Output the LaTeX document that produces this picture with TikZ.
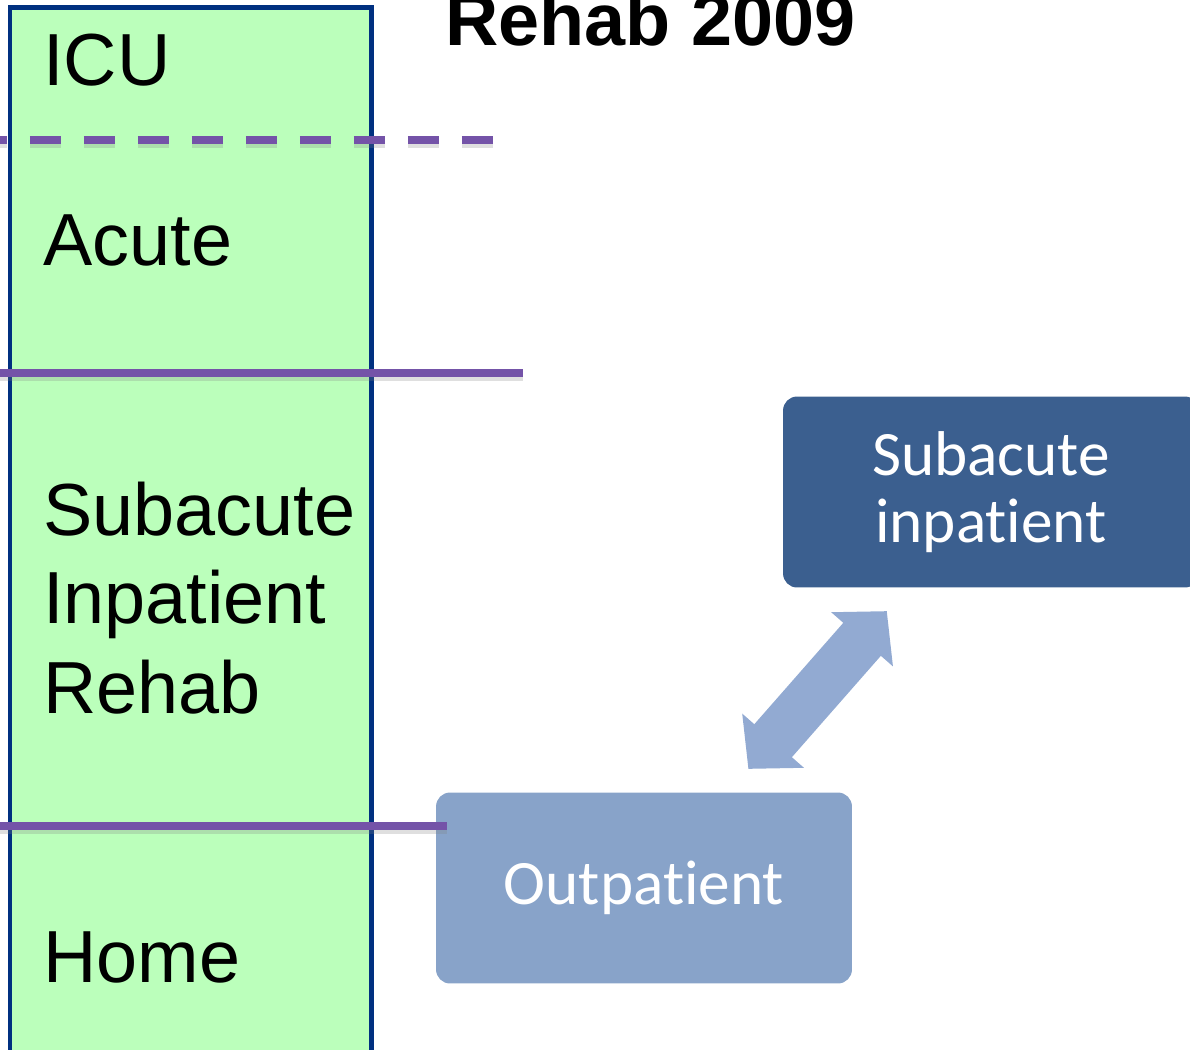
\documentclass[tikz,border=0pt]{standalone}
\usepackage{fontspec}
\setmainfont{Liberation Sans}
\newfontfamily\boxfont{Carlito}[Ligatures={NoCommon,NoContextual}]
\usetikzlibrary{
    arrows.meta,
    positioning
}
\definecolor{stagegreen}{RGB}{187,255,187}
\definecolor{stageblue}{RGB}{0,48,128}
\definecolor{divider}{RGB}{116,83,168}
\definecolor{darkbox}{RGB}{59,95,143}
\definecolor{lightbox}{RGB}{136,163,201}
\definecolor{arrowblue}{RGB}{146,170,210}
\tikzset{
  stage/.style={
    anchor=base west,
    inner sep=0pt,
    font=\fontsize{42}{51}\selectfont
  },
  divline/.style={
    divider,
    line width=0.16cm
  },
  divshadow/.style={
    gray,
    opacity=0.25,
    line width=0.16cm
  },
  setting/.style={
    rectangle,
    rounded corners=0.28cm,
    minimum width=8.32cm,
    minimum height=3.82cm,
    align=center,
    text=white,
    font=\boxfont\fontsize{36}{38}\selectfont
  },
  twoway/.style={
    arrowblue,
    line width=1cm,
    shorten <=0.62cm,
    shorten >=0.62cm,
    {Triangle[width=1.6cm,length=0.75cm]}-{Triangle[width=1.6cm,length=0.75cm]}
  }
}

\begin{document}
\begin{tikzpicture}[x=0.02cm, y=-0.02cm]
    \useasboundingbox (0,0) rectangle (1190,1049);
    \clip (0,0) rectangle (1190,1049);

    % stages column
    \draw[stageblue, fill=stagegreen, line width=0.1cm] (10,7) rectangle (371,1080);

    % title
    \node[stage, font=\fontsize{42}{51}\selectfont\bfseries] (title) at (445,45) {Rehab 2009};

    % stage names
    \node[stage] (icu) at (43,85) {ICU};
    \node[stage] (acute) at (43,265) {Acute};
    \node[stage] (sub) at (43,535) {Subacute};
    \node[stage] (inp) at (43,623) {Inpatient};
    \node[stage] (rehab) at (43,713) {Rehab};
    \node[stage] (home) at (43,982) {Home};

    % settings
    \node[setting, fill=darkbox] (subin) at (991,492) {Subacute\\inpatient};
    \node[setting, fill=lightbox] (outp) at (644,888) {Outpatient};

    % flow
    \draw[twoway] (outp) -- (subin);

    % dividers
    \draw[divshadow, dash pattern=on 0.62cm off 0.46cm, dash phase=0.48cm] (0,144) -- (512,144);
    \draw[divline, dash pattern=on 0.62cm off 0.46cm, dash phase=0.48cm] (0,140) -- (512,140);
    \draw[divshadow] (0,377) -- (523,377);
    \draw[divline] (0,373) -- (523,373);
    \draw[divshadow] (0,830) -- (447,830);
    \draw[divline] (0,826) -- (447,826);
\end{tikzpicture}
\end{document}
